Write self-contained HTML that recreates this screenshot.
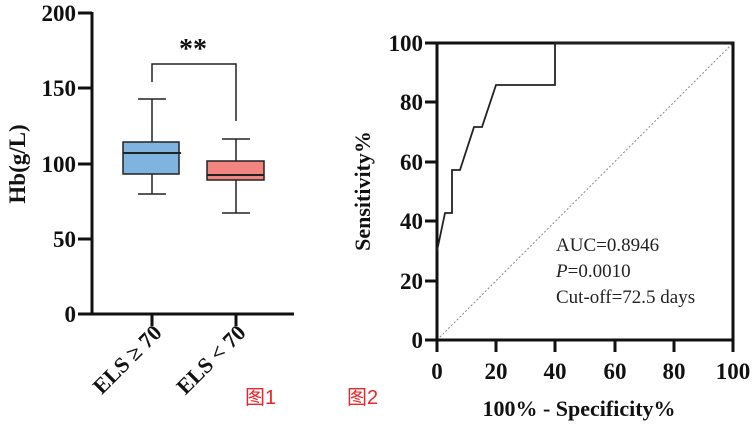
<!DOCTYPE html>
<html><head><meta charset="utf-8"><style>
html,body{margin:0;padding:0;background:#fff;}
svg{display:block;}
.t{font-family:"Liberation Serif",serif;font-weight:bold;fill:#111;}
</style></head><body>
<svg width="756" height="428" viewBox="0 0 756 428" xmlns="http://www.w3.org/2000/svg">
<rect x="0" y="0" width="756" height="428" fill="#fff"/>
<!-- Chart 1 -->
<g stroke="#111" stroke-width="3" fill="none">
<line x1="92" y1="12" x2="92" y2="315"/>
<line x1="90" y1="314" x2="294" y2="314"/>
<line x1="78" y1="13" x2="92" y2="13"/>
<line x1="78" y1="88" x2="92" y2="88"/>
<line x1="78" y1="164" x2="92" y2="164"/>
<line x1="78" y1="239" x2="92" y2="239"/>
<line x1="78" y1="314" x2="92" y2="314"/>
<line x1="152" y1="314" x2="152" y2="326"/>
<line x1="236" y1="314" x2="236" y2="326"/>
</g>
<g class="t" font-size="23" text-anchor="end">
<text x="76" y="21">200</text><text x="76" y="96">150</text><text x="76" y="172">100</text><text x="76" y="247">50</text><text x="76" y="322">0</text>
</g>
<text class="t" font-size="23" transform="translate(25,164) rotate(-90)" text-anchor="middle">Hb(g/L)</text>
<g stroke="#222" stroke-width="1.5" fill="none">
<line x1="152" y1="99" x2="152" y2="142"/><line x1="138" y1="99" x2="166" y2="99"/>
<line x1="152" y1="174" x2="152" y2="194"/><line x1="138" y1="194" x2="166" y2="194"/>
<rect x="123" y="142" width="56" height="32" fill="#7fb3e0"/>
<line x1="123" y1="153" x2="181" y2="153" stroke-width="2"/>
<line x1="236" y1="139" x2="236" y2="161"/><line x1="222" y1="139" x2="250" y2="139"/>
<line x1="236" y1="180" x2="236" y2="213"/><line x1="222" y1="213" x2="250" y2="213"/>
<rect x="207" y="161" width="57" height="19" fill="#f28580"/>
<line x1="207" y1="175" x2="264" y2="175" stroke-width="2"/>
<polyline points="152,82 152,64 236,64 236,121"/>
</g>
<text class="t" font-size="28" x="193" y="58" text-anchor="middle">**</text>
<g class="t" font-size="22" text-anchor="end">
<text transform="translate(163,334) rotate(-45)">ELS ≥ 70</text>
<text transform="translate(247,334) rotate(-45)">ELS &lt; 70</text>
</g>
<text x="245" y="404" font-family="'Liberation Sans','Noto Sans CJK SC',sans-serif" font-size="20" fill="#e8262a">图1</text>
<!-- Chart 2 -->
<text x="347" y="404" font-family="'Liberation Sans','Noto Sans CJK SC',sans-serif" font-size="20" fill="#e8262a">图2</text>
<line x1="437" y1="340" x2="733" y2="43" stroke="#888" stroke-width="1" stroke-dasharray="2,2"/>
<g stroke="#111" stroke-width="3" fill="none">
<rect x="437" y="43" width="296" height="297"/>
<line x1="425" y1="43" x2="437" y2="43"/><line x1="425" y1="102" x2="437" y2="102"/><line x1="425" y1="162" x2="437" y2="162"/><line x1="425" y1="221" x2="437" y2="221"/><line x1="425" y1="281" x2="437" y2="281"/><line x1="425" y1="340" x2="437" y2="340"/>
<line x1="437" y1="340" x2="437" y2="352"/><line x1="496" y1="340" x2="496" y2="352"/><line x1="555" y1="340" x2="555" y2="352"/><line x1="615" y1="340" x2="615" y2="352"/><line x1="674" y1="340" x2="674" y2="352"/><line x1="733" y1="340" x2="733" y2="352"/>
</g>
<polyline fill="none" stroke="#222" stroke-width="1.8" points="437,251 445,213 452,213 452,170 460,170 474,127 482,127 496,85 555,85 555,43 733,43"/>
<g class="t" font-size="23" text-anchor="end">
<text x="423" y="51">100</text><text x="423" y="110">80</text><text x="423" y="170">60</text><text x="423" y="229">40</text><text x="423" y="289">20</text><text x="423" y="348">0</text>
</g>
<g class="t" font-size="23" text-anchor="middle">
<text x="437" y="379">0</text><text x="496" y="379">20</text><text x="555" y="379">40</text><text x="615" y="379">60</text><text x="674" y="379">80</text><text x="733" y="379">100</text>
</g>
<text class="t" font-size="22" x="579" y="416" text-anchor="middle">100% - Specificity%</text>
<text class="t" font-size="22" transform="translate(370,191) rotate(-90)" text-anchor="middle">Sensitivity%</text>
<g font-family="'Liberation Serif',serif" font-size="19" fill="#222">
<text x="556" y="251">AUC=0.8946</text>
<text x="556" y="277"><tspan font-style="italic">P</tspan>=0.0010</text>
<text x="556" y="303">Cut-off=72.5 days</text>
</g>
</svg>
</body></html>
